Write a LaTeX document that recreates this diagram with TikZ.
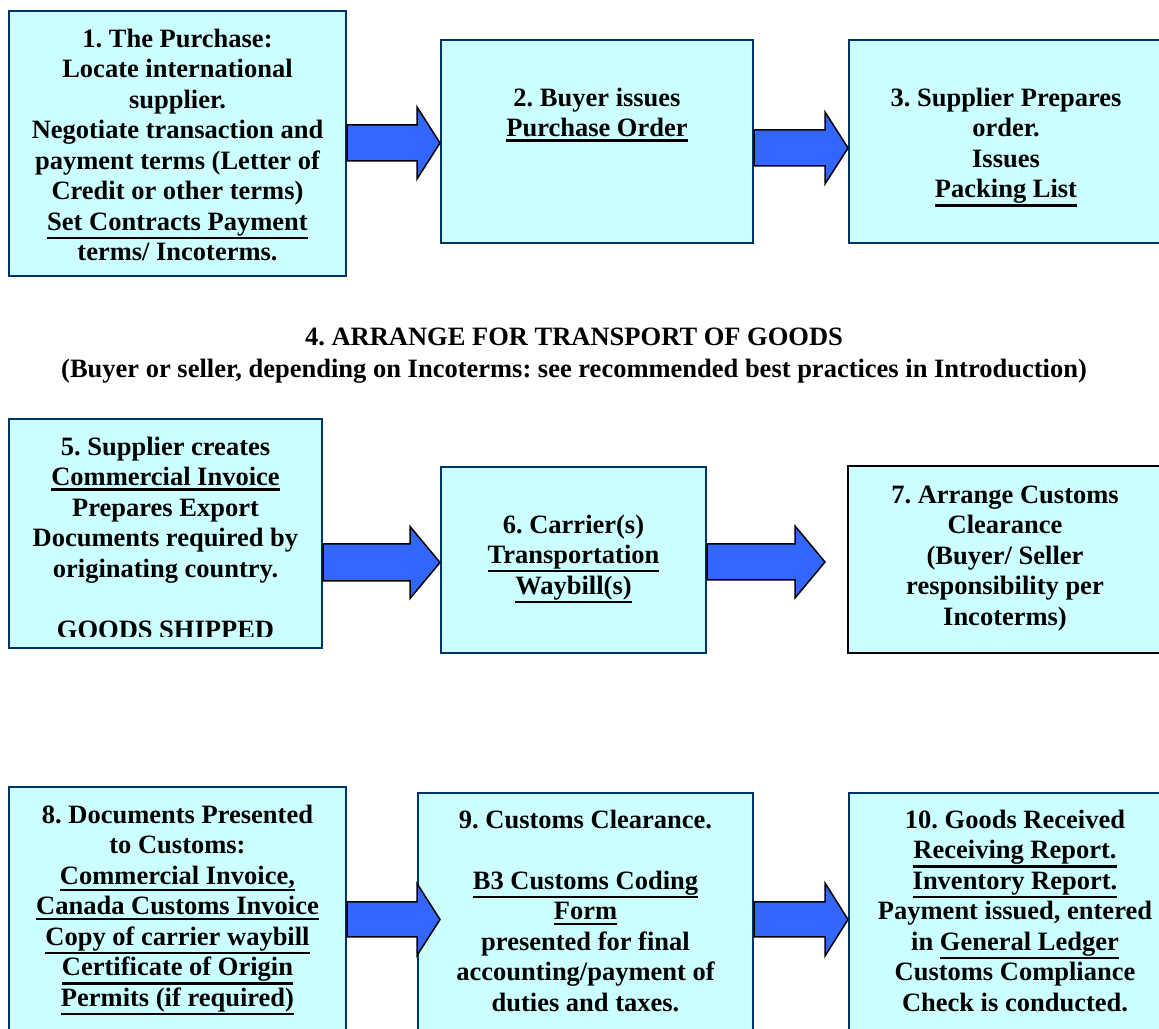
\documentclass[tikz,border=0pt]{standalone}
\usepackage{fontspec}
\setmainfont{Liberation Serif}
\usetikzlibrary{calc}
\definecolor{boxfill}{RGB}{204,255,255}
\definecolor{boxline}{RGB}{0,51,102}
\definecolor{arrfill}{RGB}{51,102,255}
\frenchspacing
\newcommand\ulc[1]{\setbox0=\hbox{#1}\leavevmode\rlap{\box0}%
  \setbox2=\hbox{#1}\raisebox{-\dimexpr\ifdim\dp2<2pt 2pt\else\dp2\fi+3pt\relax}{\rule{\wd2}{2.2pt}}}
\tikzset{
  box/.style={draw=boxline, line width=2pt, fill=boxfill, inner sep=0pt},
  boxk/.style={box, draw=black},
  txt/.style={font=\fontsize{26.5}{30.5}\selectfont\bfseries\frenchspacing, align=center, inner sep=0pt, anchor=north},
  ttl/.style={font=\fontsize{26.5}{32}\selectfont\bfseries\frenchspacing, align=center, inner sep=0pt, anchor=north},
  barrow/.style={draw=black, line width=1.5pt, fill=arrfill, line join=miter}
}
% #1 from node, #2 to node, #3 centre y, #4 shaft half, #5 head half, #6 head length, #7 tip offset
\newcommand\blockarrow[7]{%
  \draw[barrow] let \p1=(#1.east), \p2=($(#2.west)+(#7,0)$) in
    (\x1,{#3+#4}) -- ({\x2-#6},{#3+#4}) -- ({\x2-#6},{#3+#5}) -- (\x2,#3)
    -- ({\x2-#6},{#3-#5}) -- ({\x2-#6},{#3-#4}) -- (\x1,{#3-#4}) -- cycle;}
\begin{document}
\begin{tikzpicture}[x=1pt,y=1pt]
\useasboundingbox (0,0) rectangle (1159,1028);
\clip (0,0) rectangle (1159,1028);
% boxes
\node[box, minimum width=337pt, minimum height=265pt] (b1) at (177.5,884.5) {};
\node[box, minimum width=312pt, minimum height=203pt] (b2) at (597,886.5) {};
\node[box, minimum width=314pt, minimum height=203pt] (b3) at (1006,886.5) {};
\node[box, minimum width=313pt, minimum height=229pt] (b5) at (165.5,494.5) {};
\node[box, minimum width=265pt, minimum height=186pt] (b6) at (573.5,468) {};
\node[boxk, minimum width=315pt, minimum height=187pt] (b7) at (1005.5,468.5) {};
\node[box, minimum width=337pt, minimum height=258pt] (b8) at (177.5,112) {};
\node[box, minimum width=335pt, minimum height=252pt] (b9) at (585.5,109) {};
\node[box, minimum width=332pt, minimum height=252pt] (b10) at (1015,109) {};
% texts
\node[txt] (t1) at (177.5,1002.35) {\strut 1. The Purchase:\\Locate international\\supplier.\\Negotiate transaction and\\payment terms (Letter of\\Credit or other terms)\\\ulc{Set Contracts Payment}\\terms/ Incoterms.};
\node[txt] (t2) at (597,943.35) {\strut 2. Buyer issues\\\ulc{Purchase Order}};
\node[txt] (t3) at (1006,943.35) {\strut 3. Supplier Prepares\\order.\\Issues\\\ulc{Packing List}};
\node[ttl] (t4) at (574,705.35) {\strut 4. ARRANGE FOR TRANSPORT OF GOODS\\(Buyer or seller, depending on Incoterms: see recommended best practices in Introduction)};
\begin{scope}
\clip (b5.south west |- 0,391) rectangle (b5.north east);
\node[txt] (t5) at (165.5,594.35) {\strut 5. Supplier creates\\\ulc{Commercial Invoice}\\Prepares Export\\Documents required by\\originating country.\\[30.5pt]GOODS SHIPPED};
\end{scope}
\node[txt] (t6) at (573.5,516.35) {\strut 6. Carrier(s)\\\ulc{Transportation}\\\ulc{Waybill(s)}};
\node[txt] (t7) at (1005,546.35) {\strut 7. Arrange Customs\\Clearance\\(Buyer/ Seller\\responsibility per\\Incoterms)};
\node[txt] (t8) at (177.5,226.35) {\strut 8. Documents Presented\\to Customs:\\\ulc{Commercial Invoice,}\\\ulc{Canada Customs Invoice}\\\ulc{Copy of carrier waybill}\\\ulc{Certificate of Origin}\\\ulc{Permits (if required)}};
\node[txt] (t9) at (585.5,221.35) {\strut 9. Customs Clearance.\\[30.5pt]\ulc{B3 Customs Coding}\\\ulc{Form}\\presented for final\\accounting/payment of\\duties and taxes.};
\node[txt] (t10) at (1015,221.35) {\strut 10. Goods Received\\\ulc{Receiving Report.}\\\ulc{Inventory Report.}\\Payment issued, entered\\in \ulc{General Ledger}\\Customs Compliance\\Check is conducted.};
% arrows
\blockarrow{b1}{b2}{885}{18}{36}{23}{0}
\blockarrow{b2}{b3}{880}{18}{36}{23}{0}
\blockarrow{b5}{b6}{465.5}{18.5}{36}{30}{0}
\blockarrow{b6}{b7}{466}{18}{36}{30}{-22}
\blockarrow{b8}{b9}{108.5}{17.5}{36}{23}{23}
\blockarrow{b9}{b10}{108.5}{17.5}{36.5}{23}{0}
\end{tikzpicture}
\end{document}
